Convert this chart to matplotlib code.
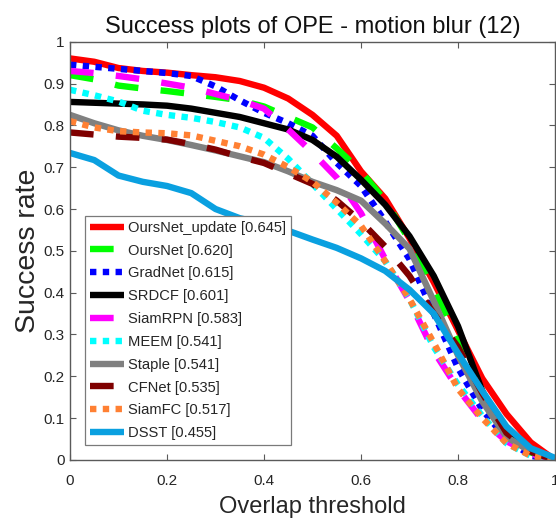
import numpy as np
import matplotlib
matplotlib.use("Agg")
import matplotlib.pyplot as plt

plt.rcParams['font.family'] = ['Liberation Sans', 'DejaVu Sans']

# Overlap thresholds (OTB protocol, step 0.05)
thresholds = np.linspace(0, 1, 21)

trackers = ["OursNet_update", "OursNet", "GradNet", "SRDCF", "SiamRPN",
            "MEEM", "Staple", "CFNet", "SiamFC", "DSST"]
auc = [0.645, 0.620, 0.615, 0.601, 0.583, 0.541, 0.541, 0.535, 0.517, 0.455]

oursnet_update = [0.960, 0.952, 0.937, 0.930, 0.926, 0.920, 0.915, 0.906, 0.890, 0.864,
                  0.825, 0.775, 0.690, 0.625, 0.530, 0.425, 0.310, 0.195, 0.110, 0.042, 0.0]
oursnet = [0.920, 0.910, 0.895, 0.888, 0.882, 0.875, 0.868, 0.860, 0.845, 0.820,
           0.795, 0.745, 0.690, 0.620, 0.525, 0.410, 0.290, 0.150, 0.065, 0.018, 0.0]
gradnet = [0.945, 0.940, 0.935, 0.930, 0.925, 0.918, 0.893, 0.860, 0.830, 0.805,
           0.775, 0.710, 0.655, 0.570, 0.480, 0.350, 0.220, 0.120, 0.050, 0.010, 0.0]
srdcf = [0.856, 0.854, 0.852, 0.850, 0.847, 0.840, 0.830, 0.820, 0.805, 0.790,
         0.765, 0.725, 0.670, 0.610, 0.535, 0.440, 0.320, 0.165, 0.060, 0.020, 0.0]
siamrpn = [0.930, 0.925, 0.918, 0.910, 0.900, 0.890, 0.875, 0.860, 0.840, 0.790,
           0.735, 0.675, 0.590, 0.480, 0.380, 0.260, 0.170, 0.095, 0.045, 0.015, 0.0]
meem = [0.885, 0.872, 0.857, 0.835, 0.825, 0.818, 0.808, 0.795, 0.770, 0.720,
        0.660, 0.600, 0.540, 0.475, 0.385, 0.270, 0.180, 0.105, 0.040, 0.010, 0.0]
staple = [0.825, 0.805, 0.788, 0.775, 0.765, 0.753, 0.740, 0.726, 0.712, 0.690,
          0.665, 0.645, 0.620, 0.565, 0.505, 0.380, 0.250, 0.140, 0.055, 0.020, 0.0]
cfnet = [0.783, 0.778, 0.773, 0.770, 0.766, 0.755, 0.742, 0.725, 0.710, 0.685,
         0.660, 0.620, 0.570, 0.510, 0.440, 0.350, 0.270, 0.160, 0.065, 0.020, 0.0]
siamfc = [0.810, 0.795, 0.786, 0.783, 0.781, 0.776, 0.763, 0.750, 0.730, 0.700,
          0.665, 0.615, 0.560, 0.475, 0.385, 0.280, 0.170, 0.100, 0.040, 0.010, 0.0]
dsst = [0.734, 0.717, 0.680, 0.665, 0.655, 0.638, 0.600, 0.578, 0.565, 0.548,
        0.527, 0.507, 0.482, 0.452, 0.407, 0.350, 0.255, 0.165, 0.080, 0.028, 0.005]

curves = [oursnet_update, oursnet, gradnet, srdcf, siamrpn,
          meem, staple, cfnet, siamfc, dsst]

colors = ["#ff0000", "#00ff00", "#0000ff", "#000000", "#ff00ff",
          "#00ffff", "#808080", "#7f0000", "#ff8033", "#0aa0e0"]
SOLID, DASH, DOT = "-", (0, (3.7, 3.5)), (0, (1, 1))
styles = [SOLID, DASH, DOT, SOLID, DASH, DOT, SOLID, DASH, DOT, SOLID]

fig = plt.figure(figsize=(5.56, 5.23), dpi=100)
ax = fig.add_axes([0.1259, 0.1205, 0.8723, 0.7998])

for name, score, ys, c, ls in zip(trackers, auc, curves, colors, styles):
    ax.plot(thresholds, ys, color=c, linestyle=ls, linewidth=4.6,
            solid_capstyle="butt", dash_capstyle="butt",
            label=f"{name} [{score:.3f}]")

ax.set_xlim(0, 1)
ax.set_ylim(0, 1)
ax.set_xticks(np.arange(0, 1.01, 0.2))
ax.set_xticklabels(["0", "0.2", "0.4", "0.6", "0.8", "1"])
ax.set_yticks(np.arange(0, 1.01, 0.1))
ax.set_yticklabels(["0", "0.1", "0.2", "0.3", "0.4", "0.5",
                    "0.6", "0.7", "0.8", "0.9", "1"])

axis_col = "#5a5a5a"
for sp in ax.spines.values():
    sp.set_color(axis_col)
    sp.set_linewidth(1.0)
ax.tick_params(direction="in", length=4, width=0.8, color=axis_col,
               labelcolor="#262626", labelsize=11, top=True, right=True)
ax.tick_params(axis="x", pad=10)
ax.tick_params(axis="y", pad=4)

ax.set_title("Success plots of OPE - motion blur (12)", fontsize=17,
             color="#111111", pad=6)
ax.set_xlabel("Overlap threshold", fontsize=17, color="#262626", labelpad=6)
ax.set_ylabel("Success rate", fontsize=20.5, color="#262626", labelpad=2)

leg = ax.legend(loc="lower left", bbox_to_anchor=(0.031, 0.036),
                borderaxespad=0, fontsize=10.6, handlelength=2.3,
                handletextpad=0.3, labelspacing=0.6, borderpad=0.32,
                fancybox=False, framealpha=1, edgecolor="#7a7a7a")
leg.get_frame().set_linewidth(0.9)
for t in leg.get_texts():
    t.set_color("#262626")

fig.savefig("out.png", dpi=100, facecolor="white")
